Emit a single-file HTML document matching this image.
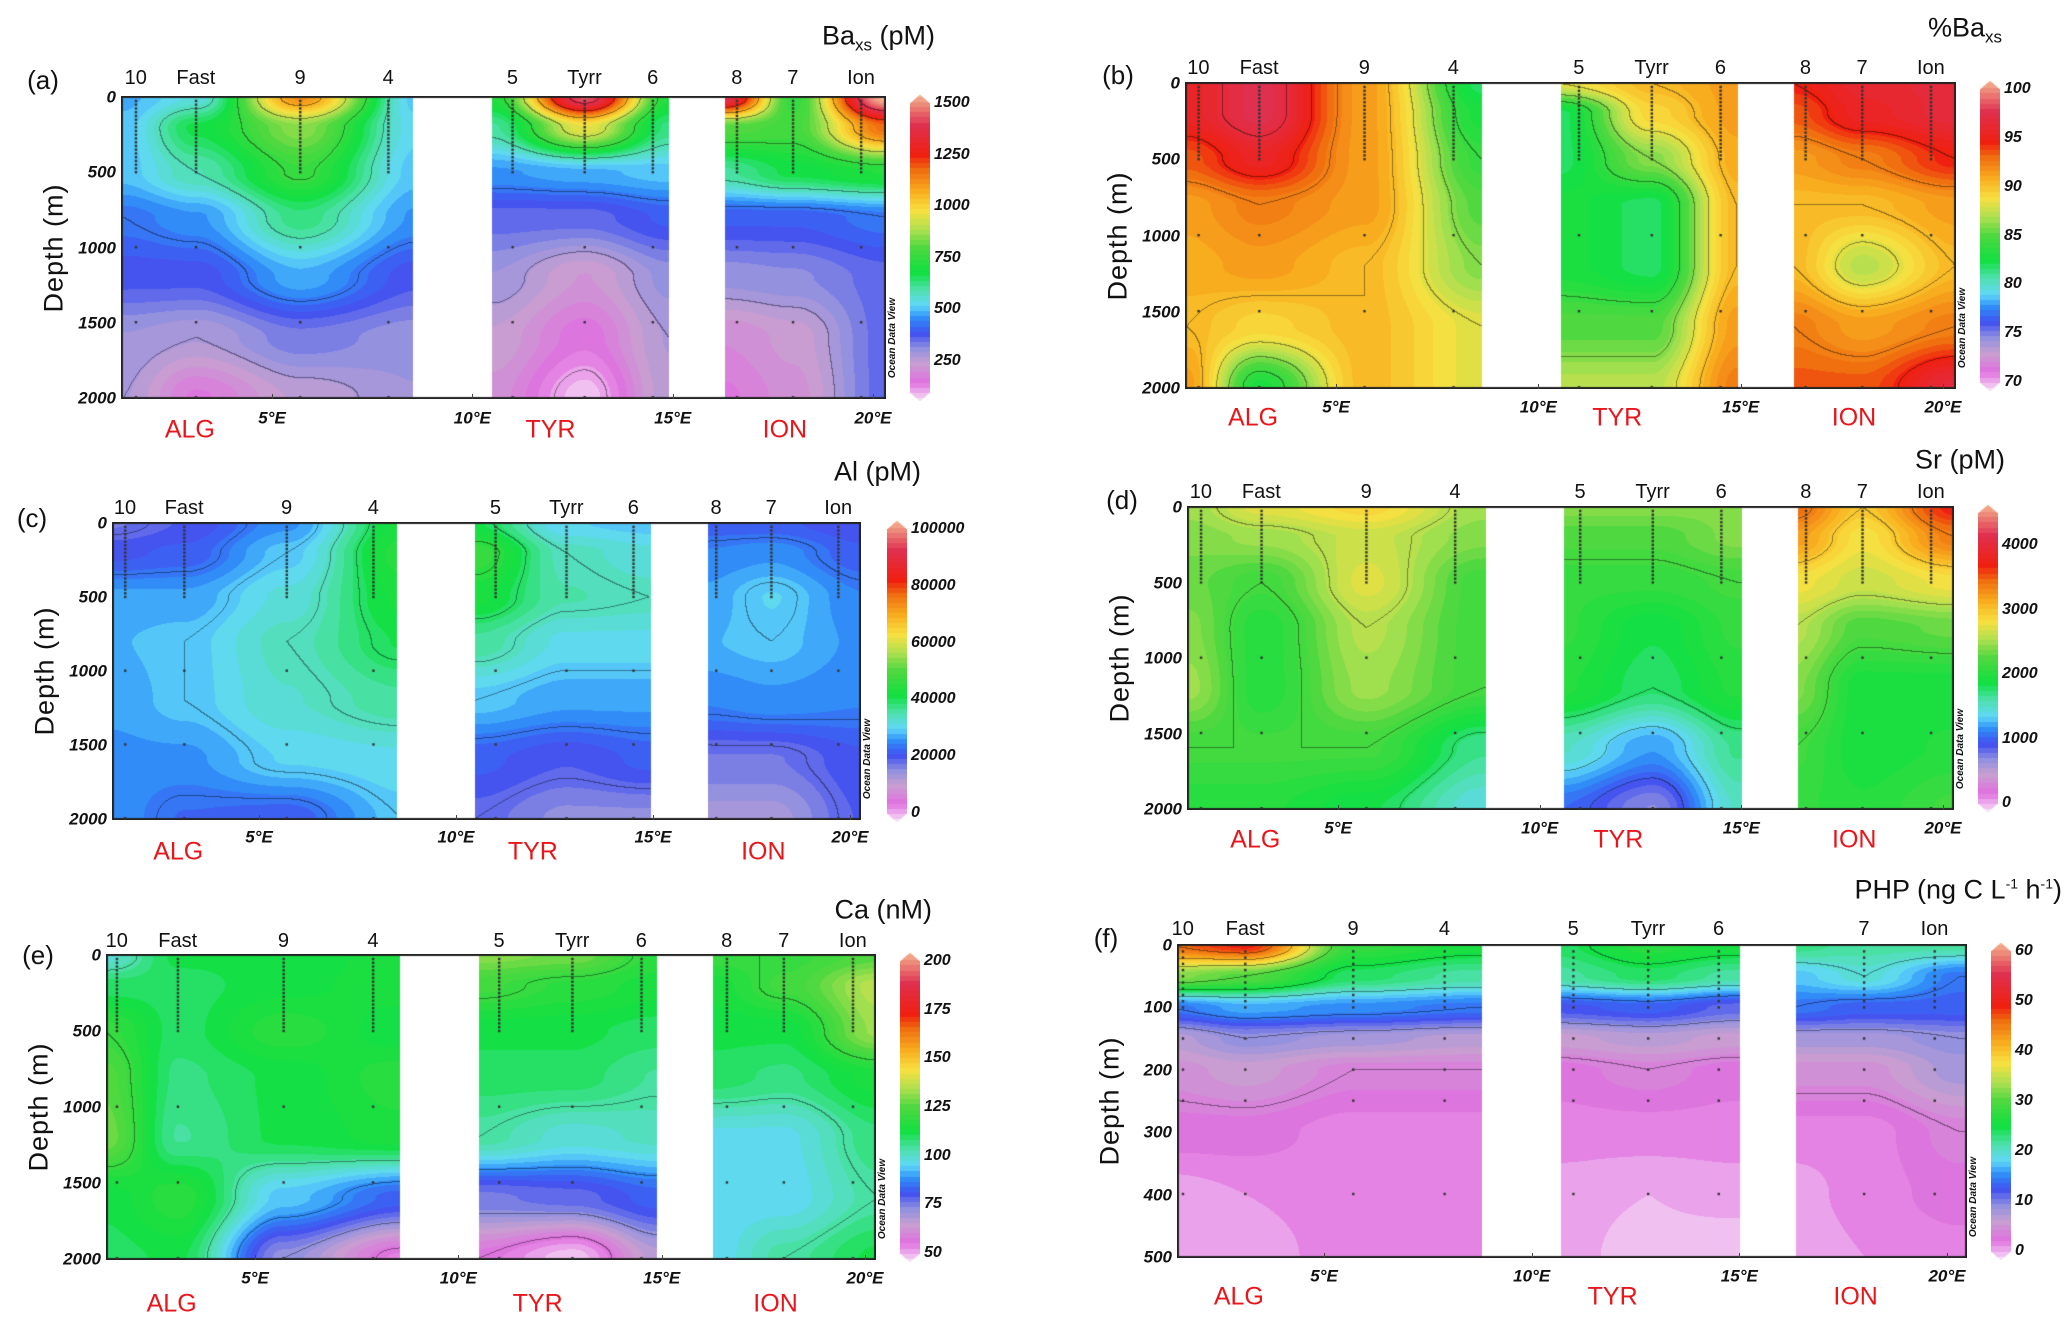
<!DOCTYPE html>
<html><head><meta charset="utf-8">
<style>
html,body{margin:0;padding:0;background:#fff;}
#fig{position:relative;width:2067px;height:1333px;overflow:hidden;background:#fff;font-family:"Liberation Sans",sans-serif;}
.t{position:absolute;white-space:nowrap;transform:translate(-50%,-50%);line-height:1;color:#111;}
.st{font-family:"Liberation Sans Narrow","Liberation Sans",sans-serif;font-size:20px;}
.ttl{font-family:"Liberation Sans Narrow","Liberation Sans",sans-serif;font-size:27px;transform:translate(-100%,-50%);}
.ttl sub{font-size:17px;vertical-align:-6px;}
.ttl sup{font-size:14px;vertical-align:10px;}
.pl{font-family:"Liberation Sans Narrow","Liberation Sans",sans-serif;font-size:26px;}
.tk{font-family:"Liberation Sans Narrow","Liberation Sans",sans-serif;font-weight:bold;font-style:italic;font-size:17px;}
.dt{transform:translate(-100%,-50%);}
.cbl{font-family:"Liberation Sans Narrow","Liberation Sans",sans-serif;font-weight:bold;font-style:italic;font-size:16px;transform:translate(0,-50%);}
.rg{font-family:"Liberation Sans Narrow","Liberation Sans",sans-serif;font-size:25px;color:#e8161b;}
.yl{font-size:27px;transform:translate(-50%,-50%) rotate(-90deg);letter-spacing:1px;}
.odv{font-size:10px;font-style:italic;font-weight:bold;transform:translate(-50%,-50%) rotate(-90deg);}
canvas{position:absolute;}
</style></head>
<body>
<div id="fig"></div>
<script>
// ---------- data ----------
const DEPTHS = [0,200,500,800,1200,1600,2000];
const DEPTHS_F = [0,50,100,150,200,300,400,500];
const NODE_LONS = [1.3,3.1,5.7,8.6,10.5,12.8,14.9,16.3,18.0,20.3];
const STATION_NAMES = ["10","Fast","9","4","5","Tyrr","6","8","7","Ion"];
const STATION_LONS = [1.6,3.1,5.7,7.9,11.0,12.8,14.5,16.6,18.0,19.7];
const REGION_NAMES = ["ALG","TYR","ION"];
const REGION_LONS = [2.95,11.95,17.8];
const LON_TICKS = [5,10,15,20];
const DEPTH_TICKS = [0,500,1000,1500,2000];
const DEPTH_TICKS_F = [0,100,200,300,400,500];

const baValues = [
 [500,520,520,450,400,320,300],[560,680,600,480,400,300,200],[1100,850,760,640,500,360,280],[520,540,520,480,400,330,320],
 [720,620,480,380,320,270,240],[1400,950,500,380,250,190,120],[720,640,520,420,330,300,290],
 [1350,800,620,420,330,230,200],[750,780,680,420,340,260,240],[1500,1150,720,450,380,380,380]];
const pbaValues = [
 [95,95,93,91,90.5,90,91],[97,97,95,92,91,89,83],[91,91,91,91,90,90,90],[82,83,84,85,86,88,88],
 [88,82,82,83,83,85,87],[90,89,86,82,82,85,87],[91,91,90.5,90,90,91,92],
 [94,93,91,90,90,92,93],[95.5,95,92,90,87,91,93],[96,96,94,91,90,92,96]];
const alValues = [
 [14000,17000,23000,24000,23000,22000,22000],[16000,18000,23000,25000,25000,22000,19000],[22000,25000,28000,30000,29000,26000,18000],[38000,40000,38000,36000,32000,27000,25000],
 [36000,42000,38000,32000,25000,18000,15000],[26000,30000,31000,27000,23000,16000,12000],[25000,28000,30000,27000,23000,18000,12000],
 [18000,21000,23000,24000,21000,14000,10000],[18000,22000,26000,25000,22000,14000,10000],[16000,18000,21000,22000,21000,17000,16000]];
const srValues = [
 [1700,1650,1600,1650,1700,1500,1400],[1850,1700,1500,1400,1400,1500,1400],[1950,1800,1850,1750,1700,1500,1300],[1700,1650,1500,1500,1500,1200,1050],
 [1650,1550,1450,1450,1400,1100,800],[1650,1550,1450,1300,1250,900,600],[1650,1650,1500,1450,1400,1200,1100],
 [2300,2150,1900,1750,1650,1500,1450],[2000,1900,1800,1550,1350,1350,1400],[2450,2250,1900,1600,1350,1400,1500]];
const caValues = [
 [100,110,120,125,128,112,110],[112,110,110,108,106,118,112],[112,113,118,112,112,95,75],[115,115,112,118,115,85,58],
 [130,122,112,110,105,78,60],[128,118,112,110,100,80,52],[118,115,110,106,102,85,70],
 [120,115,112,110,98,97,97],[120,122,112,108,98,97,105],[125,135,132,115,108,105,112]];
const phpValues = [
 [45,32,15,8,6,4,2,1.5],[48,30,17,10,7,4,2.5,2],[28,24,16,9,5,3,3,3],[26,22,15,8,5,3,3,3],
 [24,22,13,7,4,3,2,2],[27,24,14,8,5,3,1.5,1],[26,22,12,7,4,3,2,0.5],
 [23,18,15,9,6,3,2,1.5],[22,20,14,9,6,3,3,2.5],[22,15,14,10,9,5,4,3]];

const baCbTicks = [250,500,750,1000,1250,1500];
const pbaCbTicks = [70,75,80,85,90,95,100];
const alCbTicks = [0,20000,40000,60000,80000,100000];
const srCbTicks = [0,1000,2000,3000,4000];
const caCbTicks = [50,75,100,125,150,175,200];
const phpCbTicks = [0,10,20,30,40,50,60];

// ---------- layout ----------
const PANELS = [
 {id:"a",vals:baValues,depths:DEPTHS,dticks:DEPTH_TICKS,min:100,max:1500,cmin:100,cmax:1500,step:150,cb:baCbTicks,title:'Ba<sub>xs</sub> (pM)',
  L:122,R:885,T:97,B:398,x5:272,x20:873,g1:[413,492],g2:[669,725],cbx:910,titleX:935,titleY:38,labX:43,labY:80,stY:78,tkY:418,rgY:430},
 {id:"b",vals:pbaValues,depths:DEPTHS,dticks:DEPTH_TICKS,min:70,max:100,cmin:70,cmax:100,step:2,cb:pbaCbTicks,title:'%Ba<sub>xs</sub>',
  L:1186,R:1955,T:83,B:388,x5:1336,x20:1943,g1:[1482,1561],g2:[1738,1794],cbx:1980,titleX:2002,titleY:30,labX:1118,labY:75,stY:68,tkY:407,rgY:418},
 {id:"c",vals:alValues,depths:DEPTHS,dticks:DEPTH_TICKS,min:0,max:100000,cmin:-5000,cmax:95000,step:5000,cb:alCbTicks,title:'Al (pM)',
  L:113,R:860,T:523,B:819,x5:259,x20:850,g1:[397,475],g2:[651,708],cbx:887,titleX:921,titleY:472,labX:32,labY:518,stY:508,tkY:837,rgY:852},
 {id:"d",vals:srValues,depths:DEPTHS,dticks:DEPTH_TICKS,min:0,max:4500,cmin:88,cmax:3030,step:250,cb:srCbTicks,title:'Sr (pM)',
  L:1188,R:1953,T:507,B:809,x5:1338,x20:1943,g1:[1486,1564],g2:[1742,1798],cbx:1978,titleX:2005,titleY:460,labX:1122,labY:500,stY:492,tkY:828,rgY:840},
 {id:"e",vals:caValues,depths:DEPTHS,dticks:DEPTH_TICKS,min:50,max:200,cmin:50,cmax:200,step:15,cb:caCbTicks,title:'Ca (nM)',
  L:107,R:875,T:955,B:1259,x5:255,x20:865,g1:[400,479],g2:[657,713],cbx:900,titleX:932,titleY:910,labX:38,labY:955,stY:941,tkY:1278,rgY:1304},
 {id:"f",vals:phpValues,depths:DEPTHS_F,dticks:DEPTH_TICKS_F,min:0,max:60,cmin:0,cmax:60,step:5,cb:phpCbTicks,title:'PHP (ng C L<sup>-1</sup> h<sup>-1</sup>)',
  L:1178,R:1966,T:945,B:1257,x5:1324,x20:1947,g1:[1482,1561],g2:[1740,1796],cbx:1991,titleX:2062,titleY:890,labX:1106,labY:938,stY:929,tkY:1276,rgY:1297,noStation8:true}
];

const STOPS = [[0,"#f6e0f6"],[0.06,"#e070e0"],[0.12,"#c8a0d0"],[0.17,"#9090e0"],[0.22,"#4050f0"],[0.27,"#3090f8"],[0.31,"#60d8f8"],
 [0.36,"#50e0b0"],[0.42,"#10e040"],[0.50,"#50d840"],[0.56,"#b0e050"],[0.62,"#f8e040"],[0.68,"#f8b020"],[0.75,"#f07010"],
 [0.80,"#f02010"],[0.90,"#e03050"],[1,"#f4b890"]];
const STOPS_RGB = STOPS.map(s=>[s[0],parseInt(s[1].slice(1,3),16),parseInt(s[1].slice(3,5),16),parseInt(s[1].slice(5,7),16)]);
function cmap(t){
  t=Math.max(0,Math.min(1,t));
  for(let i=1;i<STOPS_RGB.length;i++){
    if(t<=STOPS_RGB[i][0]){const a=STOPS_RGB[i-1],b=STOPS_RGB[i];const f=(t-a[0])/(b[0]-a[0]);
      return [a[1]+(b[1]-a[1])*f,a[2]+(b[2]-a[2])*f,a[3]+(b[3]-a[3])*f];}
  }
  const l=STOPS_RGB[STOPS_RGB.length-1];return [l[1],l[2],l[3]];
}
function sm(f){return f*f*(3-2*f);}
function interp1(xs,ys,x){
  if(x<=xs[0])return ys[0];
  for(let i=1;i<xs.length;i++){ if(x<=xs[i]){const f=sm((x-xs[i-1])/(xs[i]-xs[i-1]));return ys[i-1]+(ys[i]-ys[i-1])*f;} }
  return ys[ys.length-1];
}
const SECTIONS=[[0,1,2,3],[4,5,6],[7,8,9]];
function fieldValue(p,sec,lon,depth){
  const idx=SECTIONS[sec];
  const lons=idx.map(i=>NODE_LONS[i]);
  const col=idx.map(i=>interp1(p.depths,p.vals[i],depth));
  return interp1(lons,col,lon);
}

const fig=document.getElementById('fig');
function addText(cls,html,x,y,name){
  const d=document.createElement('div');
  d.className='t '+cls;d.innerHTML=html;d.style.left=x+'px';d.style.top=y+'px';
  
  
  fig.appendChild(d);return d;
}

PANELS.forEach(p=>{
  const ppd=(p.x20-p.x5)/15;
  const xOf=lon=>p.x5+(lon-5)*ppd;
  const W=p.R-p.L,H=p.B-p.T;
  const maxD=p.depths[p.depths.length-1];
  const cv=document.createElement('canvas');
  cv.width=W+2;cv.height=H+2;cv.style.left=(p.L-1)+'px';cv.style.top=(p.T-1)+'px';
  
  
  fig.appendChild(cv);
  const ctx=cv.getContext('2d');
  const img=ctx.createImageData(W+2,H+2);
  const lv=new Float32Array((W+2)*(H+2)).fill(NaN);
  for(let j=0;j<H;j++){
    const depth=j/(H-1)*maxD;
    for(let i=0;i<W;i++){
      const x=p.L+i;let sec=-1;
      if(x<p.g1[0])sec=0;else if(x>=p.g1[1]&&x<p.g2[0])sec=1;else if(x>=p.g2[1])sec=2;
      const k=((j+1)*(W+2)+(i+1))*4;
      if(sec<0){img.data[k]=255;img.data[k+1]=255;img.data[k+2]=255;img.data[k+3]=255;continue;}
      const lon=5+(x-p.x5)/ppd;
      const v=fieldValue(p,sec,lon,depth);
      const t=(v-p.cmin)/(p.cmax-p.cmin);
      const tq=Math.round(t*60)/60;
      const c=cmap(tq);
      img.data[k]=c[0];img.data[k+1]=c[1];img.data[k+2]=c[2];img.data[k+3]=255;
      lv[(j+1)*(W+2)+(i+1)]=Math.floor(v/p.step);
    }
  }
  for(let j=1;j<=H;j++)for(let i=1;i<=W;i++){
    const a=lv[j*(W+2)+i];if(isNaN(a))continue;
    const r=lv[j*(W+2)+i+1],b=lv[(j+1)*(W+2)+i];
    if((!isNaN(r)&&r!==a)||(!isNaN(b)&&b!==a)){
      const k=(j*(W+2)+i)*4;img.data[k]*=0.6;img.data[k+1]*=0.6;img.data[k+2]*=0.6;
    }
  }
  ctx.putImageData(img,0,0);
  ctx.strokeStyle='#222';ctx.lineWidth=2;ctx.strokeRect(1,1,W,H);
  ctx.fillStyle='#333';
  STATION_LONS.forEach((lon,si)=>{
    if(p.noStation8&&si===7)return;
    const sx=xOf(lon)-p.L+1;
    const sampleDepths=[];
    if(maxD===2000){for(let d=25;d<=500;d+=25)sampleDepths.push(d);sampleDepths.push(1000,1500,2000);}
    else{for(let d=10;d<=100;d+=10)sampleDepths.push(d);sampleDepths.push(150,200,250,400);}
    sampleDepths.forEach(d=>{const sy=d/maxD*(H-1)+1;ctx.fillRect(sx-1,sy-1,2.4,2.4);});
  });
  STATION_NAMES.forEach((n,si)=>{
    if(p.noStation8&&si===7)return;
    addText('st',n,xOf(STATION_LONS[si]),p.stY,'station-label');
  });
  p.dticks.forEach(d=>{addText('tk dt',String(d),p.L-6,p.T+d/maxD*H,'depth-tick-label');});
  LON_TICKS.forEach(l=>{addText('tk',l+'°E',xOf(l),p.tkY,'lon-tick-label');
    const tm=document.createElement('div');tm.style.cssText='position:absolute;width:1px;height:5px;background:#444;left:'+xOf(l)+'px;top:'+(p.B-4)+'px';
    
    
    fig.appendChild(tm);
  });
  REGION_NAMES.forEach((r,ri)=>{addText('rg',r,xOf(REGION_LONS[ri]),p.rgY,'region-label');});
  addText('ttl',p.title,p.titleX,p.titleY,'panel-title');
  addText('pl','('+p.id+')',p.labX,p.labY,'panel-letter');
  addText('yl','Depth (m)',p.L-68,(p.T+p.B)/2,'y-axis-title');
  addText('odv','Ocean Data View',p.R+8,p.B-60,'odv-watermark');
  const cb=document.createElement('canvas');
  const cbH=p.B-p.T+6;cb.width=20;cb.height=cbH;cb.style.left=p.cbx+'px';cb.style.top=(p.T-3)+'px';
  
  
  fig.appendChild(cb);
  const cc=cb.getContext('2d');
  const cap=9;
  for(let y=0;y<cbH;y++){
    const t=1-y/(cbH-1);
    const c=cmap(Math.round(t*60)/60);
    cc.fillStyle='rgb('+c.map(Math.round).join(',')+')';
    let x0=0,x1=20;
    if(y<cap){const w=10*y/cap;x0=10-w;x1=10+w;}
    if(y>cbH-cap){const w=10*(cbH-y)/cap;x0=10-w;x1=10+w;}
    cc.fillRect(x0,y,x1-x0,1);
  }
  p.cb.forEach(v=>{
    const y=p.T-3+cap+(1-(v-p.min)/(p.max-p.min))*(cbH-2*cap);
    addText('cbl',String(v),p.cbx+24,y,'colorbar-tick-label');
  });
});
</script>
</body></html>
